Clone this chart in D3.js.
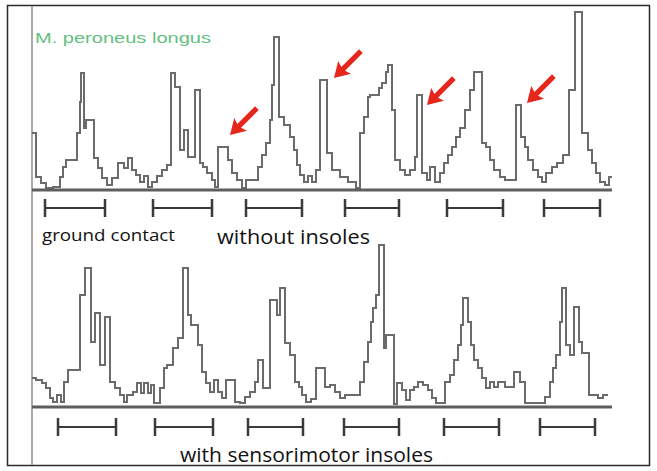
<!DOCTYPE html>
<html><head><meta charset="utf-8">
<script src="https://cdn.jsdelivr.net/npm/d3@7"></script>
<style>html,body{margin:0;padding:0;background:#fff;}svg{display:block;}</style>
</head><body>
<script>
// EMG trace, M. peroneus longus (time in arbitrary units, amplitude in arbitrary units)
const topTime = [0,4,9,14,21,28,31,34,45,48,49,52,54,62,66,70,75,80,86,92,96,100,104,108,112,116,120,125,130,135,139,143,148,152,156,163,168,171,175,180,183,186,196,200,205,210,214,226,230,234,238,240,242,247,252,258,262,265,268,272,276,280,284,288,295,300,308,316,324,328,332,336,338,347,350,354,356,360,363,368,373,378,383,385,390,395,398,403,408,412,416,420,424,428,433,438,442,450,454,458,462,468,473,484,489,493,496,501,506,510,514,520,525,531,537,543,550,556,560,564,568,573,577,580];
const topAmp  = [57,13,7,2,3,13,23,30,57,88,117,62,70,32,22,12,5,12,27,22,32,20,15,8,14,3,8,14,20,25,117,103,40,60,33,100,27,23,17,10,3,43,30,17,10,2,10,23,35,47,70,105,153,73,65,53,40,25,15,8,14,8,20,110,37,20,13,8,2,57,73,93,95,102,107,118,125,80,30,20,15,20,33,95,17,10,23,8,17,27,35,43,53,62,80,100,118,47,43,30,20,13,10,85,53,43,30,20,13,8,17,23,27,35,100,178,57,40,27,17,8,5,13,13];

const bottomTime = [0,4,10,14,18,21,25,29,32,36,48,53,59,63,68,73,78,83,88,92,95,101,105,109,112,116,119,122,128,132,135,141,146,151,156,159,166,170,174,178,182,186,190,194,203,208,213,218,223,226,231,238,245,248,253,258,263,267,270,274,279,284,293,298,303,308,313,328,332,336,339,341,344,347,352,354,362,365,370,374,378,382,386,391,396,400,404,413,418,422,426,429,431,436,439,442,446,450,454,458,462,466,473,482,488,493,513,518,521,524,528,530,534,538,542,547,550,557,566,571,576];
const bottomAmp  = [29,27,24,19,9,5,12,5,25,37,112,139,65,94,42,90,25,19,12,5,12,15,24,14,24,14,22,4,19,39,42,59,69,139,92,82,62,35,24,15,27,15,9,27,5,4,10,15,25,47,19,107,92,119,64,52,25,20,12,5,8,39,20,22,15,9,12,25,45,65,85,99,112,162,59,72,3,24,17,7,17,20,25,22,17,9,4,25,32,47,62,82,109,85,62,47,39,29,19,25,20,25,20,35,25,4,10,25,39,52,85,119,62,52,100,65,54,12,9,12,12];

// ground contact phases (start, end)
const topContactStart = [13,121,214,313,415,512];
const topContactEnd   = [73,180,270,367,471,568];
const bottomContactStart = [26,123,216,312,412,508];
const bottomContactEnd   = [84,181,271,367,467,563];

// red arrow annotations (tip position in data units)
const arrowTime = [198,302,395,495];
const arrowAmp  = [55,112,85,87];

const labels = ["M. peroneus longus","ground contact","without insoles","with sensorimotor insoles"];

const W = 657, H = 471;
const svg = d3.select("body").append("svg").attr("width", W).attr("height", H);

const x = d3.scaleLinear().domain([0,580]).range([32,612]);
const yTop = d3.scaleLinear().domain([0,190]).range([190,0]);
const yBot = d3.scaleLinear().domain([0,190]).range([407,217]);

// frame
svg.append("rect").attr("x",7.5).attr("y",5.5).attr("width",642).attr("height",460)
  .attr("fill","#fff").attr("stroke","#2b2b2b").attr("stroke-width",1.5);

// left gray axis line
svg.append("line").attr("x1",x(0)).attr("x2",x(0)).attr("y1",6).attr("y2",465)
  .attr("stroke","#a9a9a9").attr("stroke-width",2);

function drawTrace(times, amps, yS){
  const pts = times.map((t,i)=>[t,amps[i]]);
  const line = d3.line().x(d=>x(d[0])).y(d=>yS(d[1])).curve(d3.curveStepAfter);
  svg.append("path").datum(pts).attr("d",line).attr("fill","none")
    .attr("stroke","#6b6b6b").attr("stroke-width",2).attr("stroke-linejoin","miter");
  // baseline
  svg.append("line").attr("x1",x(0)).attr("x2",x(580)).attr("y1",yS(0)).attr("y2",yS(0))
    .attr("stroke","#5e5e5e").attr("stroke-width",3);
}
drawTrace(topTime, topAmp, yTop);
drawTrace(bottomTime, bottomAmp, yBot);

function drawContacts(starts, ends, yc){
  const g = svg.append("g").attr("stroke","#3a3a3a");
  starts.forEach((s,i)=>{
    g.append("line").attr("x1",x(s)).attr("x2",x(ends[i])).attr("y1",yc).attr("y2",yc).attr("stroke-width",2);
    g.append("line").attr("x1",x(s)).attr("x2",x(s)).attr("y1",yc-9).attr("y2",yc+9).attr("stroke-width",2.5);
    g.append("line").attr("x1",x(ends[i])).attr("x2",x(ends[i])).attr("y1",yc-9).attr("y2",yc+9).attr("stroke-width",2.5);
  });
}
drawContacts(topContactStart, topContactEnd, 208);
drawContacts(bottomContactStart, bottomContactEnd, 427);

// red arrows pointing down-left
arrowTime.forEach((t,i)=>{
  const tx = x(t), ty = yTop(arrowAmp[i]);
  const g = svg.append("g").attr("transform",`translate(${tx},${ty}) rotate(-45)`);
  // arrow along +x axis points to tip at origin: shaft to the right (rotated to upper-right)
  g.append("path").attr("d","M0,0 L15,-9 L13,-2.6 L38,-2.6 L38,2.6 L13,2.6 L15,9 Z")
    .attr("fill","#e5261b");
});

// texts
svg.append("text").attr("x",35).attr("y",43).text(labels[0])
  .attr("font-family","Liberation Sans, Arial, sans-serif").attr("font-size",15)
  .attr("fill","#62c17e").attr("textLength",176).attr("lengthAdjust","spacingAndGlyphs");
svg.append("text").attr("x",42).attr("y",241).text(labels[1])
  .attr("font-family","Open Sans, sans-serif").attr("font-size",17)
  .attr("fill","#111").attr("textLength",133).attr("lengthAdjust","spacingAndGlyphs");
svg.append("text").attr("x",217).attr("y",244).text(labels[2])
  .attr("font-family","Open Sans, sans-serif").attr("font-size",20)
  .attr("fill","#111").attr("textLength",153).attr("lengthAdjust","spacingAndGlyphs");
svg.append("text").attr("x",180).attr("y",462).text(labels[3])
  .attr("font-family","Open Sans, sans-serif").attr("font-size",20)
  .attr("fill","#111").attr("textLength",253).attr("lengthAdjust","spacingAndGlyphs");
</script>
</body></html>
